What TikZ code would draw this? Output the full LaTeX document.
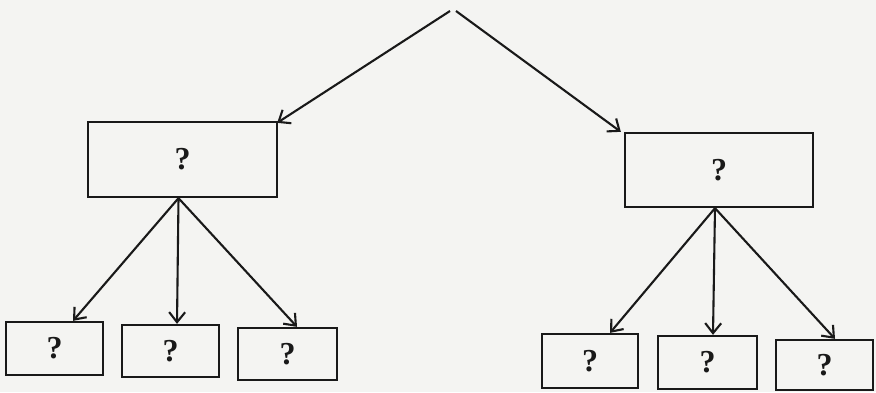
\documentclass[tikz,border=0pt]{standalone}
\usepackage{fontspec}
\setmainfont{Liberation Serif}
\usetikzlibrary{arrows.meta}
\definecolor{paper}{RGB}{244,244,242}
\definecolor{ink}{RGB}{25,25,25}
\begin{document}
\begin{tikzpicture}[x=1pt,y=-1pt,
  box/.style={draw=ink, line width=2.3pt, rectangle, inner sep=0pt,
    font=\fontsize{32}{36}\selectfont\bfseries, text=ink},
  arr/.style={draw=ink, line width=2.1pt, -{Straight Barb[length=10pt,width=16pt,line width=2.1pt]}}]
\fill[paper] (0,0) rectangle (876,392);
\useasboundingbox (0,0) rectangle (876,392);
\coordinate (apex) at (453,11);
\node[box, minimum width=189pt, minimum height=75pt] (L) at (182.5,159.5) {?};
\node[box, minimum width=188pt, minimum height=74pt] (R) at (719,170) {?};
\node[box, minimum width=97pt, minimum height=53pt] (l1) at (54.5,348.5) {?};
\node[box, minimum width=97pt, minimum height=52pt] (l2) at (170.5,351) {?};
\node[box, minimum width=99pt, minimum height=52pt] (l3) at (287.5,354) {?};
\node[box, minimum width=96pt, minimum height=54pt] (r1) at (590,361) {?};
\node[box, minimum width=99pt, minimum height=53pt] (r2) at (707.5,362.5) {?};
\node[box, minimum width=97pt, minimum height=50pt] (r3) at (824.5,365) {?};
\draw[arr] ([xshift=-3pt]apex) -- ([xshift=-1pt,yshift=-2pt]L.north east);
\draw[arr] ([xshift=3pt]apex) -- ([xshift=-3pt]R.north west);
\draw[arr] ([xshift=-4pt]L.south) -- ([xshift=18.5pt]l1.north);
\draw[arr] ([xshift=-4pt]L.south) -- ([xshift=6.5pt]l2.north);
\draw[arr] ([xshift=-4pt]L.south) -- ([xshift=9.5pt]l3.north);
\draw[arr] ([xshift=-4pt]R.south) -- ([xshift=20pt]r1.north);
\draw[arr] ([xshift=-4pt]R.south) -- ([xshift=5.5pt]r2.north);
\draw[arr] ([xshift=-4pt]R.south) -- ([xshift=10.5pt]r3.north);
\end{tikzpicture}
\end{document}
